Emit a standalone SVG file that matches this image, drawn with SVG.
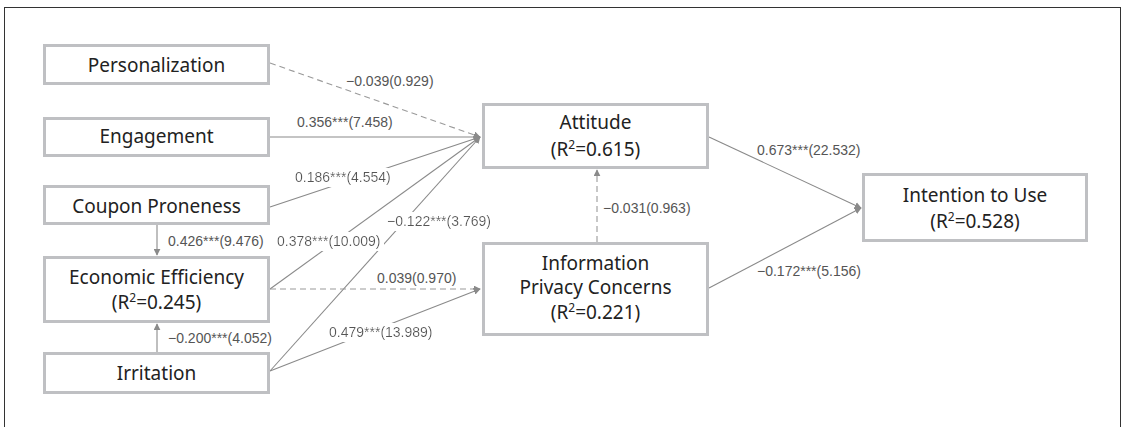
<svg xmlns="http://www.w3.org/2000/svg" width="1124" height="427" viewBox="0 0 1124 427">
<style>
.box{fill:#fff;stroke:#bfc0c3;stroke-width:3}
.nt{font-family:"Noto Sans","DejaVu Sans",sans-serif;font-size:19px;fill:#222;text-anchor:middle}
.sup{font-size:12px}
.lbl{font-family:"Liberation Sans",Arial,sans-serif;font-size:14px;fill:#555}
.ln{fill:none;stroke:#8a8a8a;stroke-width:1.1}
.dash{fill:none;stroke:#9a9a9a;stroke-width:1.1;stroke-dasharray:6 4}
</style>
<defs>
<marker id="ah" viewBox="0 0 10 10" refX="9" refY="5" markerWidth="7" markerHeight="7" markerUnits="userSpaceOnUse" orient="auto">
<path d="M0,0 L10,5 L0,10 z" fill="#8a8a8a"/>
</marker>
<filter id="bg" x="-0.03" y="-0.05" width="1.06" height="1.15">
<feFlood flood-color="#fff"/>
<feComposite in="SourceGraphic"/>
</filter>
</defs>
<rect x="4.5" y="7.5" width="1116" height="440" fill="#fff" stroke="#333" stroke-width="1"/>
<g id="connectors">
<line class="dash" x1="270" y1="63" x2="480" y2="137" marker-end="url(#ah)"/>
<line class="ln" x1="270" y1="137" x2="480" y2="137" marker-end="url(#ah)"/>
<line class="ln" x1="270" y1="207" x2="480" y2="137" marker-end="url(#ah)"/>
<line class="ln" x1="270" y1="289" x2="480" y2="137" marker-end="url(#ah)"/>
<line class="ln" x1="270" y1="371" x2="480" y2="137" marker-end="url(#ah)"/>
<line class="dash" x1="270" y1="289" x2="480" y2="289" marker-end="url(#ah)"/>
<line class="ln" x1="270" y1="371" x2="480" y2="289" marker-end="url(#ah)"/>
<line class="ln" x1="157" y1="225" x2="157" y2="255" marker-end="url(#ah)"/>
<line class="ln" x1="157" y1="352" x2="157" y2="324" marker-end="url(#ah)"/>
<line class="dash" x1="597" y1="242" x2="597" y2="170" marker-end="url(#ah)"/>
<line class="ln" x1="709" y1="137" x2="861" y2="208" marker-end="url(#ah)"/>
<line class="ln" x1="709" y1="288" x2="861" y2="208" marker-end="url(#ah)"/>
<text class="lbl" x="346" y="86">−0.039(0.929)</text>
<text class="lbl" x="297" y="127">0.356***(7.458)</text>
<text class="lbl" x="295" y="182" filter="url(#bg)">0.186***(4.554)</text>
<text class="lbl" x="387" y="226" filter="url(#bg)">−0.122***(3.769)</text>
<text class="lbl" x="168" y="246">0.426***(9.476)</text>
<text class="lbl" x="277" y="246" filter="url(#bg)">0.378***(10.009)</text>
<text class="lbl" x="377" y="283">0.039(0.970)</text>
<text class="lbl" x="168" y="343">−0.200***(4.052)</text>
<text class="lbl" x="329" y="337" filter="url(#bg)">0.479***(13.989)</text>
<text class="lbl" x="757" y="155">0.673***(22.532)</text>
<text class="lbl" x="603" y="213">−0.031(0.963)</text>
<text class="lbl" x="757" y="276">−0.172***(5.156)</text>
</g>
<g id="personalization">
<rect class="box" x="44.5" y="45.5" width="224" height="38"/>
<text class="nt" x="156.5" y="72">Personalization</text>
</g>
<g id="engagement">
<rect class="box" x="44.5" y="118.5" width="224" height="37"/>
<text class="nt" x="156.5" y="143">Engagement</text>
</g>
<g id="coupon-proneness">
<rect class="box" x="44.5" y="186.5" width="224" height="37"/>
<text class="nt" x="156.5" y="213">Coupon Proneness</text>
</g>
<g id="economic-efficiency">
<rect class="box" x="44.5" y="257.5" width="224" height="64"/>
<text class="nt" x="156.5" y="284">Economic Efficiency</text>
<text class="nt" x="156.5" y="309">(R<tspan class="sup" dy="-7">2</tspan><tspan dy="7">=0.245)</tspan></text>
</g>
<g id="irritation">
<rect class="box" x="44.5" y="353.5" width="224" height="39"/>
<text class="nt" x="156.5" y="380">Irritation</text>
</g>
<g id="attitude">
<rect class="box" x="483.5" y="104.5" width="224" height="63"/>
<text class="nt" x="595.5" y="129">Attitude</text>
<text class="nt" x="595.5" y="156">(R<tspan class="sup" dy="-7">2</tspan><tspan dy="7">=0.615)</tspan></text>
</g>
<g id="information-privacy-concerns">
<rect class="box" x="483.5" y="243.5" width="224" height="91"/>
<text class="nt" x="595.5" y="270">Information</text>
<text class="nt" x="595.5" y="294">Privacy Concerns</text>
<text class="nt" x="595.5" y="319">(R<tspan class="sup" dy="-7">2</tspan><tspan dy="7">=0.221)</tspan></text>
</g>
<g id="intention-to-use">
<rect class="box" x="863.5" y="174.5" width="223" height="66"/>
<text class="nt" x="975" y="202">Intention to Use</text>
<text class="nt" x="975" y="228">(R<tspan class="sup" dy="-7">2</tspan><tspan dy="7">=0.528)</tspan></text>
</g>
</svg>
